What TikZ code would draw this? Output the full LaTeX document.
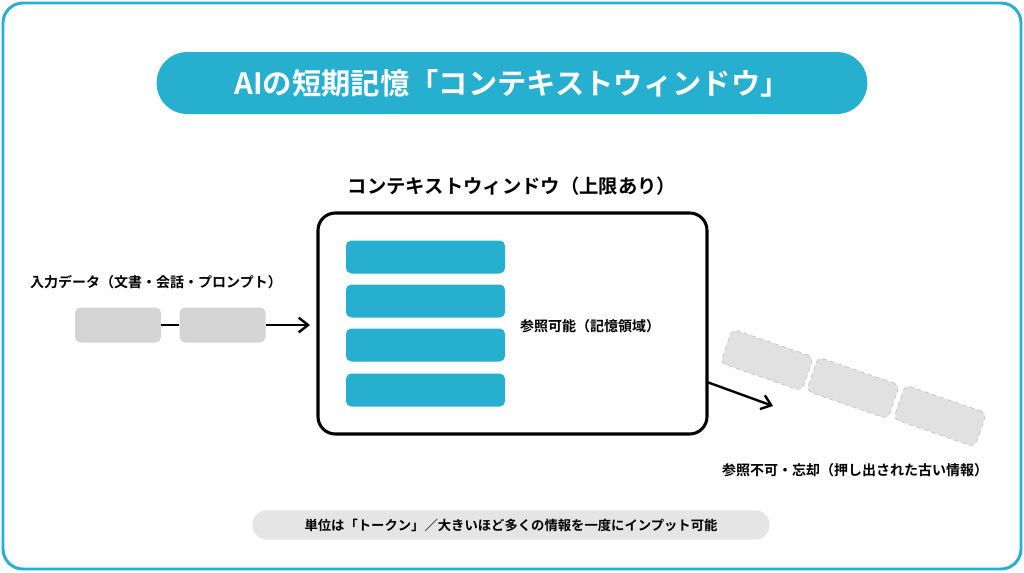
\documentclass[tikz,border=0pt]{standalone}
\usepackage{fontspec}
\usetikzlibrary{arrows.meta}
\setmainfont{Noto Sans CJK JP}[BoldFont={Noto Sans CJK JP Bold}]
\definecolor{cy}{HTML}{26AFCF}
\definecolor{gb}{HTML}{D4D4D4}
\begin{document}
\begin{tikzpicture}[x=0.75pt,y=-0.75pt,
  bar/.style={fill=cy,draw=none,rounded corners=4pt,minimum width=119.25pt,minimum height=24.75pt},
  gbox/.style={fill=gb,draw=none,rounded corners=4pt,minimum width=64.5pt,minimum height=26.25pt},
  dbox/.style={fill=gb!70,draw=gray!55,dashed,rounded corners=4pt,minimum width=64.5pt,minimum height=27pt,rotate=-19},
  lbl/.style={font=\bfseries\fontsize{10.5pt}{12pt}\selectfont}]
\useasboundingbox (0,0) rectangle (1024,572);
\draw[cy,line width=2.2pt,rounded corners=15pt,fill=white] (3,3) rectangle (1021,569);
\node[fill=cy,rounded corners=23pt,minimum width=533pt,minimum height=46.5pt,text=white,font=\bfseries\fontsize{22pt}{26pt}\selectfont] (title) at (512,83) {AIの短期記憶「コンテキストウィンドウ」};
\node[font=\bfseries\fontsize{14.5pt}{17pt}\selectfont] (sub) at (512,186) {コンテキストウィンドウ（上限あり）};
\draw[line width=2.3pt,rounded corners=13pt] (318,213) rectangle (707,434);
\coordinate (win) at (318,325);
\coordinate (winout) at (707,382);
\node[bar] (b1) at (425.5,257) {};
\node[bar] (b2) at (425.5,301) {};
\node[bar] (b3) at (425.5,345) {};
\node[bar] (b4) at (425.5,390) {};
\node[lbl] (ref) at (590,326) {参照可能（記憶領域）};
\node[lbl] (in) at (156,282) {入力データ（文書・会話・プロンプト）};
\node[gbox] (g1) at (118,325) {};
\node[gbox] (g2) at (222.5,325) {};
\draw[line width=1.8pt] (g1) -- (g2);
\coordinate (ae) at (310,325);
\draw[line width=1.8pt,-{Straight Barb[length=7pt,width=11pt]}] (g2.east) -- (ae);
\node[dbox] (d1) at (767,360) {};
\node[dbox] (d2) at (853,388) {};
\node[dbox] (d3) at (940,416) {};
\coordinate (oe) at (773,406);
\draw[line width=1.8pt,-{Straight Barb[length=7pt,width=11pt]}] (winout) -- (oe);
\node[lbl] (out) at (855,470) {参照不可・忘却（押し出された古い情報）};
\node[fill=gray!20,rounded corners=11pt,minimum width=388pt,minimum height=22pt,font=\bfseries\fontsize{10pt}{12pt}\selectfont] (foot) at (511,525) {単位は「トークン」／大きいほど多くの情報を一度にインプット可能};
\end{tikzpicture}
\end{document}
